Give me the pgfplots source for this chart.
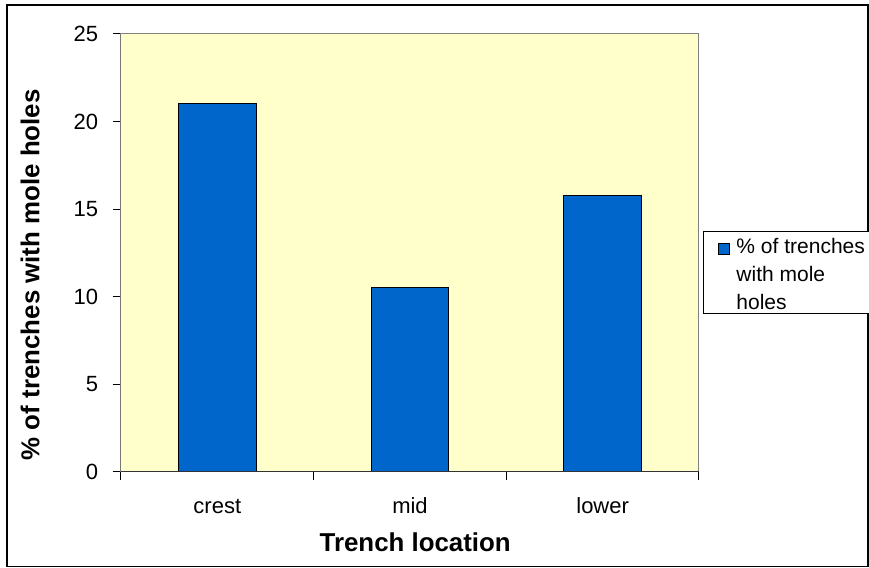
\documentclass[border=0pt]{standalone}
\usepackage{pgfplots}
\pgfplotsset{compat=1.18}
\usepackage{fontspec}
\setmainfont{Liberation Sans}
\definecolor{bgyellow}{HTML}{FFFFCC}
\definecolor{barblue}{HTML}{0066CC}
\definecolor{framegray}{HTML}{808080}
\begin{document}
\begin{tikzpicture}
\useasboundingbox (-90.75pt,-71.5pt) rectangle (561pt,353.8pt);
\draw[black, line width=1.2pt] (-85.5pt,-71.1pt) rectangle (560.25pt,350pt);
\begin{axis}[
  at={(0pt,0pt)}, anchor=south west,
  scale only axis, width=433.5pt, height=328.3pt,
  ybar, bar width=58.3pt,
  xmin=-0.5, xmax=2.5, ymin=0, ymax=25,
  ytick={0,5,10,15,20,25},
  xtick={-0.5,0.5,1.5,2.5}, xticklabels={},
  extra x ticks={0,1,2}, extra x tick labels={crest,mid,lower},
  extra x tick style={major tick length=0pt,
     tick label style={anchor=base, inner sep=0pt, yshift=-31pt}},
  tick pos=left,
  tick align=outside, major tick length=6pt,
  tick style={black, line width=0.75pt},
  axis background/.style={fill=bgyellow},
  axis line style={framegray, line width=0.75pt},
  /pgf/number format/assume math mode=true,
  tick label style={font=\fontsize{16.5pt}{19pt}\selectfont},
  yticklabel style={anchor=east, inner sep=0pt, xshift=-11pt},
  xlabel={Trench location},
  ylabel={\% of trenches with mole holes},
  xlabel style={at={(axis description cs:0.509,-0.183)}, anchor=base, inner sep=0pt, font=\fontsize{19.4pt}{23pt}\selectfont\bfseries},
  ylabel style={at={(axis description cs:-0.157,0.45)}, anchor=center, inner sep=0pt, font=\fontsize{19.4pt}{23pt}\selectfont\bfseries},
  legend image code/.code={\path (0pt,0pt); \draw[fill=barblue, draw=black, line width=0.75pt] (11.25pt,-0.75pt) rectangle (19.5pt,7.5pt);},
  legend style={at={(axis description cs:1.0069,0.549)}, anchor=north west,
     draw=black, fill=white, line width=0.75pt, inner xsep=0pt, inner ysep=0pt,
     nodes={inner sep=0pt, anchor=base west, text depth=45pt},
     column sep=4.5pt,
     font=\fontsize{15.75pt}{21pt}\selectfont},
]
\addplot[fill=barblue, draw=black, line width=0.75pt] coordinates {(0,21.05) (1,10.53) (2,15.79)};
\addlegendentry{\parbox[t]{100pt}{\rule{0pt}{16.3pt}\% of trenches\\with mole\\holes}}
\draw[black!80, line width=0.75pt] (rel axis cs:0,1) -- (rel axis cs:0,0) -- (rel axis cs:1,0);
\end{axis}
\end{tikzpicture}
\end{document}
